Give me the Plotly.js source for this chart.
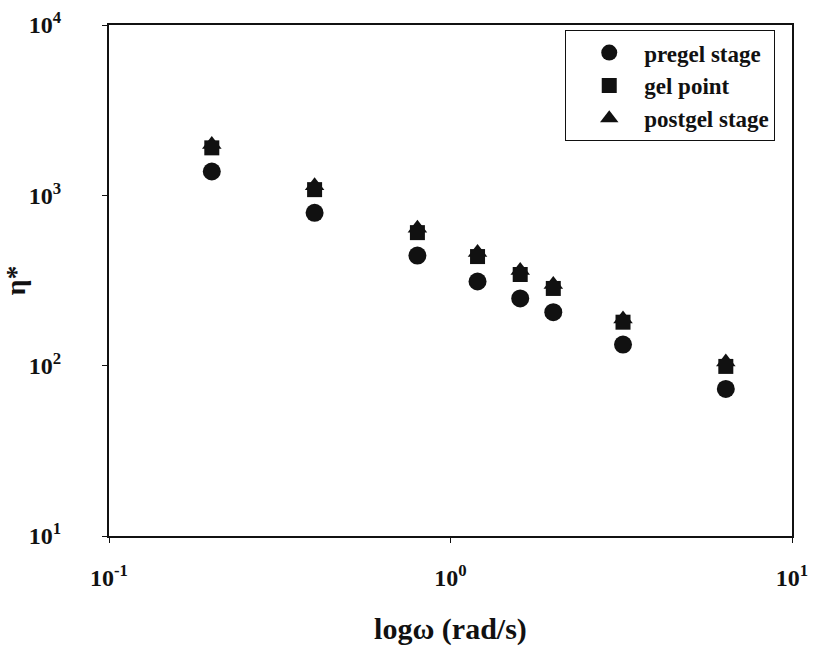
<!DOCTYPE html>
<html>
<head>
<meta charset="utf-8">
<script src="https://cdn.plot.ly/plotly-3.0.1.min.js"></script>
<style>html,body{margin:0;padding:0;background:#fff;}#chart{width:814px;height:651px;}</style>
</head>
<body>
<div id="chart"></div>
<script>
const omega = [0.2, 0.4, 0.8, 1.2, 1.6, 2.0, 3.2, 6.4];
const pregel = [1380, 790, 443, 312, 248, 206, 133, 73];
const gelPoint = [1900, 1080, 604, 437, 343, 284, 180, 99];
const postgel = [1990, 1140, 640, 462, 362, 300, 188, 105];
const xTickVals = [0.1, 1, 10];
const xTickText = ['10<sup>-1</sup>', '10<sup>0</sup>', '10<sup>1</sup>'];
const yTickVals = [10, 100, 1000, 10000];
const yTickText = ['10<sup>1</sup>', '10<sup>2</sup>', '10<sup>3</sup>', '10<sup>4</sup>'];

const fontFam = 'Times New Roman, Liberation Serif, Times, serif';

const traces = [
  {x: omega, y: pregel, name: 'pregel stage', mode: 'markers', type: 'scatter',
   marker: {symbol: 'circle', size: 18, color: '#111'}, legendrank: 1},
  {x: omega, y: postgel, name: 'postgel stage', mode: 'markers', type: 'scatter',
   marker: {symbol: 'triangle-up', size: 17, color: '#111'}, legendrank: 3},
  {x: omega, y: gelPoint, name: 'gel point', mode: 'markers', type: 'scatter',
   marker: {symbol: 'square', size: 15, color: '#111'}, legendrank: 2}
];

const layout = {
  width: 814, height: 651,
  margin: {l: 109, r: 22, t: 25, b: 115},
  paper_bgcolor: '#fff', plot_bgcolor: '#fff',
  font: {family: fontFam, color: '#111', weight: 700},
  showlegend: true,
  legend: {x: 0.668, y: 0.99, xanchor: 'left', yanchor: 'top',
    bordercolor: '#111', borderwidth: 1, bgcolor: '#fff',
    font: {family: fontFam, size: 23, color: '#111', weight: 700},
    tracegroupgap: 0, itemsizing: 'trace', itemwidth: 60, indentation: 8},
  xaxis: {type: 'log', range: [-1, 1], tickvals: xTickVals, ticktext: xTickText,
    ticks: 'outside', ticklen: 5, tickwidth: 1, tickcolor: '#111',
    showline: true, linecolor: '#111', linewidth: 2, mirror: true,
    showgrid: false, zeroline: false, ticklabelstandoff: 14,
    tickfont: {family: fontFam, size: 24, color: '#111', weight: 700},
    title: {text: 'logω (rad/s)', font: {family: fontFam, size: 30, color: '#111', weight: 700}, standoff: 28}},
  yaxis: {type: 'log', range: [1, 4], tickvals: yTickVals, ticktext: yTickText,
    ticks: 'outside', ticklen: 5, tickwidth: 1, tickcolor: '#111',
    showline: true, linecolor: '#111', linewidth: 2, mirror: true,
    showgrid: false, zeroline: false, ticklabelstandoff: 36,
    tickfont: {family: fontFam, size: 24, color: '#111', weight: 700},
    title: {text: 'η*', font: {family: fontFam, size: 28, color: '#111', weight: 700}, standoff: 2}}
};

Plotly.newPlot('chart', traces, layout, {displayModeBar: false});
</script>
</body>
</html>
